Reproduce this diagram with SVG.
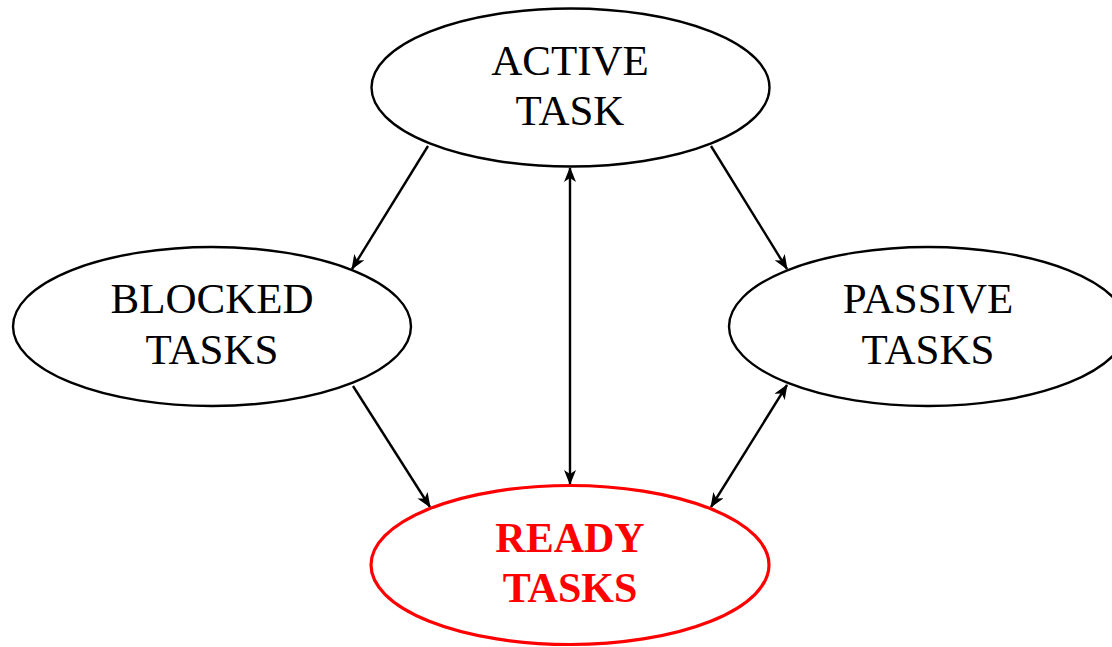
<svg xmlns="http://www.w3.org/2000/svg" width="1112" height="647" viewBox="0 0 1112 647">
<defs>
<style>
.node{fill:#fff;stroke:#000;stroke-width:2.4}
.ready{fill:#fff;stroke:#f00;stroke-width:3.2}
.lbl{font-family:"Liberation Serif",serif;font-size:43px;text-anchor:middle;fill:#000}
.rlbl{font-family:"Liberation Serif",serif;font-size:42px;font-weight:bold;text-anchor:middle;fill:#f00}
.edge{fill:none;stroke:#000;stroke-width:2.4}
</style>
<marker id="ah" viewBox="0 0 15 12" refX="14" refY="6" markerWidth="15" markerHeight="12" markerUnits="userSpaceOnUse" orient="auto-start-reverse">
<path d="M0,0 L15,6 L0,12 L4,6 Z" fill="#000"/>
</marker>
</defs>
<g id="connectors">
<line class="edge" x1="428" y1="146" x2="352" y2="269" marker-end="url(#ah)"/>
<line class="edge" x1="711" y1="146" x2="787" y2="269" marker-end="url(#ah)"/>
<line class="edge" x1="570" y1="168" x2="570" y2="484" marker-start="url(#ah)" marker-end="url(#ah)"/>
<line class="edge" x1="353" y1="386" x2="430" y2="507" marker-end="url(#ah)"/>
<line class="edge" x1="787" y1="385" x2="711" y2="507" marker-start="url(#ah)" marker-end="url(#ah)"/>
</g>
<g id="active">
<ellipse class="node" cx="570.5" cy="87.5" rx="199" ry="79"/>
<text class="lbl" x="570" y="75">ACTIVE</text>
<text class="lbl" x="570" y="125">TASK</text>
</g>
<g id="blocked">
<ellipse class="node" cx="212" cy="326.5" rx="199" ry="79.5"/>
<text class="lbl" x="212" y="313">BLOCKED</text>
<text class="lbl" x="212" y="364">TASKS</text>
</g>
<g id="passive">
<ellipse class="node" cx="928" cy="326.5" rx="199" ry="79.5"/>
<text class="lbl" x="928" y="313">PASSIVE</text>
<text class="lbl" x="928" y="364">TASKS</text>
</g>
<g id="ready">
<ellipse class="ready" cx="570" cy="565" rx="199" ry="79.5"/>
<text class="rlbl" x="570" y="552">READY</text>
<text class="rlbl" x="570" y="602">TASKS</text>
</g>
</svg>
